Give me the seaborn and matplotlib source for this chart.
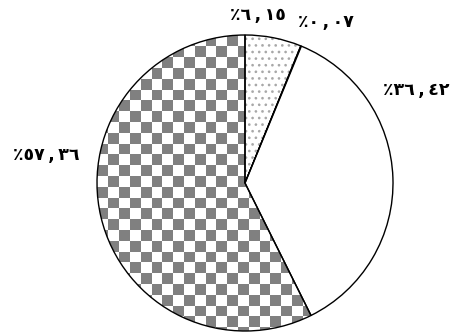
import numpy as np
import matplotlib
matplotlib.use("Agg")
import matplotlib.pyplot as plt
from matplotlib.colors import ListedColormap, LinearSegmentedColormap
import seaborn as sns

sns.set_theme(style="white")
plt.rcParams['font.family'] = ['DejaVu Sans']

# data (clockwise from top)
shares = [6.15, 0.07, 36.42, 57.36]
labels = ["٪٦\u2009,\u2009١٥", "٪٠\u2009,\u2009٠٧", "٪٣٦\u2009,\u2009٤٢", "٪٥٧\u2009,\u2009٣٦"]

# label placement (style)
label_pos = [(0.09, 1.135), (0.55, 1.088), (1.155, 0.628), (-1.345, 0.189)]

W, H = 452, 334
fig = plt.figure(figsize=(W / 100, H / 100), dpi=100)
fig.patch.set_facecolor("white")
R = 148
cx, cy = 245, 183
ax = fig.add_axes([(cx - R) / W, (H - cy - R) / H, 2 * R / W, 2 * R / H])

wedges, _ = ax.pie(shares, startangle=90, counterclock=False,
                   colors=["white"] * 4,
                   wedgeprops=dict(edgecolor="black", linewidth=1.0))
ax.set_xlim(-1, 1)
ax.set_ylim(-1, 1)
ax.set_aspect("equal")
ax.axis("off")

n = 2 * R
yy, xx = np.mgrid[0:n, 0:n].astype(float)

# dotted texture (staggered light-gray dots)
sp = 6.6
row = np.floor(yy / sp)
xs = xx + (row % 2) * sp / 2
dx = (xs % sp) - sp / 2
dy = (yy % sp) - sp / 2
d = np.hypot(dx, dy)
dots = np.clip((d - 0.8) / 1.0, 0, 1)
dot_img = ax.imshow(dots, extent=(-1, 1, -1, 1),
                    cmap=LinearSegmentedColormap.from_list("d", ["#a8a8a8", "white"]),
                    interpolation="nearest", zorder=0.5)
dot_img.set_clip_path(wedges[0])
wedges[0].set_facecolor("none")
wedges[0].set_zorder(2)

# checker texture for the largest slice
cell = 10.8
chk = ((xx // cell + yy // cell) % 2)
img = ax.imshow(chk, extent=(-1, 1, -1, 1), cmap=ListedColormap(["#808080", "white"]),
                interpolation="nearest", zorder=0.5)
img.set_clip_path(wedges[3])
wedges[3].set_facecolor("none")
wedges[3].set_zorder(2)

for (x, y), t in zip(label_pos, labels):
    ax.text(x, y, t, ha="center", va="center", fontsize=12.5, fontweight="bold", color="black")

fig.savefig("out.png", dpi=100, facecolor="white")
